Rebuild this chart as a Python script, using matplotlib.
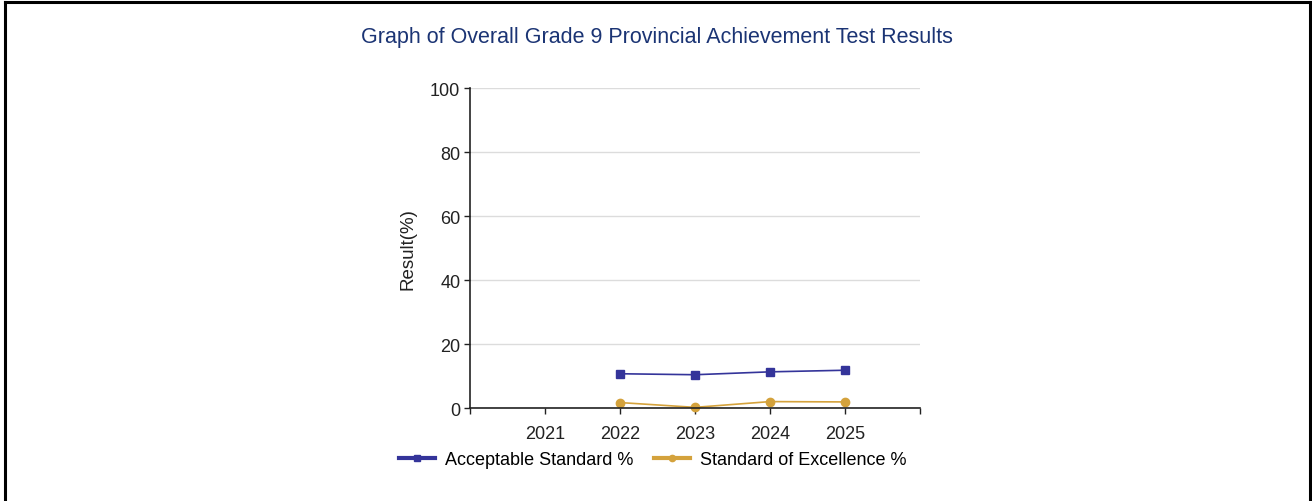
import matplotlib
matplotlib.use("Agg")
import matplotlib.pyplot as plt
from matplotlib.lines import Line2D

years = [2021, 2022, 2023, 2024, 2025]
acceptable_years = [2022, 2023, 2024, 2025]
acceptable = [10.7, 10.4, 11.3, 11.8]
excellence_years = [2022, 2023, 2024, 2025]
excellence = [1.7, 0.2, 2.0, 1.9]
yticks = [0, 20, 40, 60, 80, 100]

plt.rcParams['font.family'] = ['Liberation Sans', 'DejaVu Sans']
FS = 13

fig = plt.figure(figsize=(13.12, 5.02), dpi=100)
fig.patch.set_facecolor('white')

# outer border (left, top, right)
fig.add_artist(Line2D([0.0040, 0.0040], [0.0, 0.9950], transform=fig.transFigure, color='black', lw=2.2))
fig.add_artist(Line2D([0.0040, 0.9985], [0.9950, 0.9950], transform=fig.transFigure, color='black', lw=2.2))
fig.add_artist(Line2D([0.9985, 0.9985], [0.0, 0.9950], transform=fig.transFigure, color='black', lw=2.2))

ax = fig.add_axes([470/1312, 1-409/502, 450/1312, 320/502])
ax.set_xlim(2020, 2026)
ax.set_ylim(0, 100)
ax.set_yticks(yticks)
ax.set_xticks([2020] + years + [2026])
ax.set_xticklabels([''] + [str(y) for y in years] + [''])
ax.yaxis.grid(True, color='#dcdcdc', lw=1)
ax.set_axisbelow(True)
for s in ['top', 'right']:
    ax.spines[s].set_visible(False)
for s in ['left', 'bottom']:
    ax.spines[s].set_color('#222222')
    ax.spines[s].set_linewidth(1.2)
ax.tick_params(axis='both', labelsize=FS, length=4, width=1, color='#222222', labelcolor='#222222')
ax.tick_params(axis='x', pad=8)
ax.tick_params(axis='y', pad=3)

blue = '#34349a'
gold = '#d4a23c'
ax.plot(acceptable_years, acceptable, color=blue, marker='s', markersize=6, lw=1.2,
        label='Acceptable Standard %', clip_on=False)
ax.plot(excellence_years, excellence, color=gold, marker='o', markersize=6, lw=1.2,
        label='Standard of Excellence %', clip_on=False)

ax.set_ylabel('Result(%)', fontsize=13.5, color='#222222', labelpad=10)

fig.text(0.501, 1-37.5/502, 'Graph of Overall Grade 9 Provincial Achievement Test Results',
         ha='center', va='center', fontsize=15.5, color='#1b3474')

h1 = Line2D([], [], color=blue, lw=3, marker='s', markersize=4.5)
h2 = Line2D([], [], color=gold, lw=3, marker='o', markersize=4.5)
fig.legend([h1, h2], ['Acceptable Standard %', 'Standard of Excellence %'],
           loc='center', bbox_to_anchor=(0.4975, 1-461/502), ncol=2, frameon=False,
           fontsize=FS, handlelength=2.0, columnspacing=1.15, handletextpad=0.55,
           borderpad=0.2)

fig.savefig('out.png', dpi=100, facecolor='white')
